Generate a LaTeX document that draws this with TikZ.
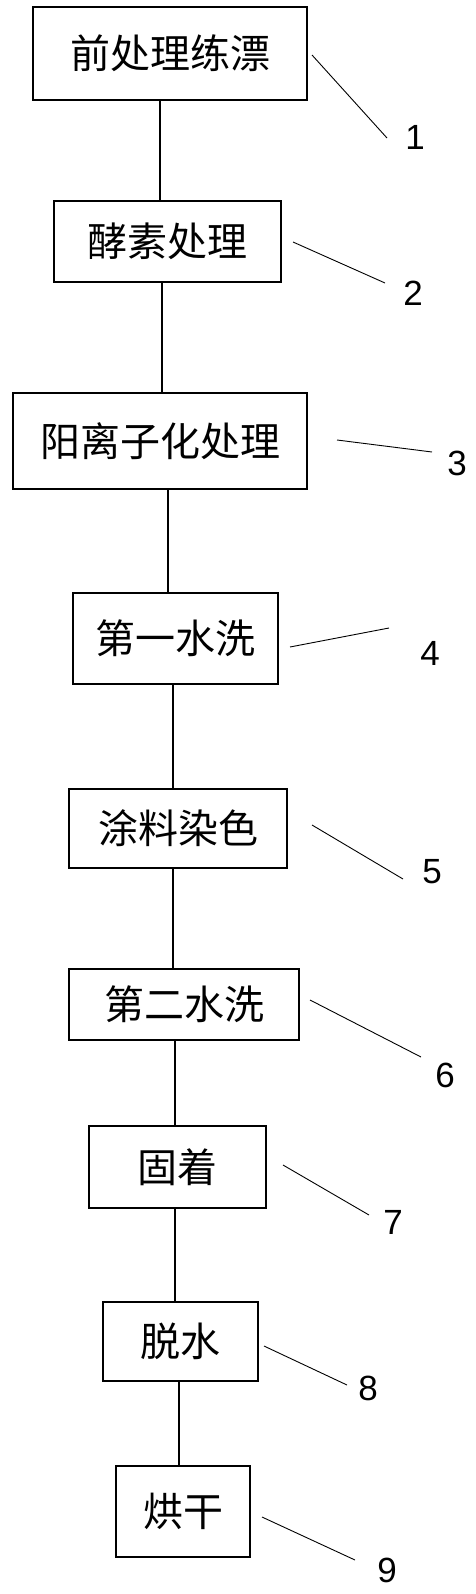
\documentclass[tikz,border=0pt]{standalone}
\usepackage{fontspec}
\setmainfont{Liberation Sans}
\newfontfamily\cjk{Noto Sans CJK SC}
\usepackage{tikz}
\begin{document}
\begin{tikzpicture}[x=1pt, y=-1pt,
        box/.style={draw, line width=1.6pt, inner sep=0pt, font=\cjk\fontsize{40}{40}\selectfont},
        lead/.style={line width=0.9pt},
        num/.style={font=\fontsize{35}{35}\selectfont}]
        \useasboundingbox (0,0) rectangle (475,1594);
        \foreach \n/\x/\y/\w/\h/\t in {1/170/53.5/274/93/前处理练漂, 2/167.5/241.5/227/81/酵素处理,
            3/160/441/294/96/阳离子化处理, 4/175.5/638.5/205/91/第一水洗, 5/178/828.5/218/79/涂料染色,
            6/184/1004.5/230/71/第二水洗, 7/177.5/1167/177/82/固着, 8/180.5/1341.5/155/79/脱水,
            9/183/1511.5/134/91/烘干}
        {
            \node[box, minimum width=\w pt, minimum height=\h pt] (b\n) at (\x,\y) {\t};
        }
        \foreach \a/\b/\x in {1/2/160, 2/3/162, 3/4/168, 4/5/173, 5/6/173, 6/7/175, 7/8/175, 8/9/179}
        {
            \draw[line width=1.6pt] (b\a.south -| \x,0) -- (b\b.north -| \x,0);
        }
        \foreach \n/\sx/\sy/\ex/\ey/\lx/\ly in {1/312/55/387/138/415/137, 2/293/242/385/283/413/293,
            3/337/440/432/452/457/463, 4/290/647/389/628/430/653, 5/312/825/403/879/432/872,
            6/310/1000/421/1057/445/1075, 7/283/1165/369/1215/393/1222, 8/264/1346/347/1385/368/1388,
            9/262/1517/355/1560/387/1570}
        {
            \node[num] (n\n) at (\lx,\ly) {\n};
            \coordinate (e\n) at (\ex,\ey);
            \draw[lead] (\sx,\sy) -- (e\n);
        }
    \end{tikzpicture}
\end{document}
